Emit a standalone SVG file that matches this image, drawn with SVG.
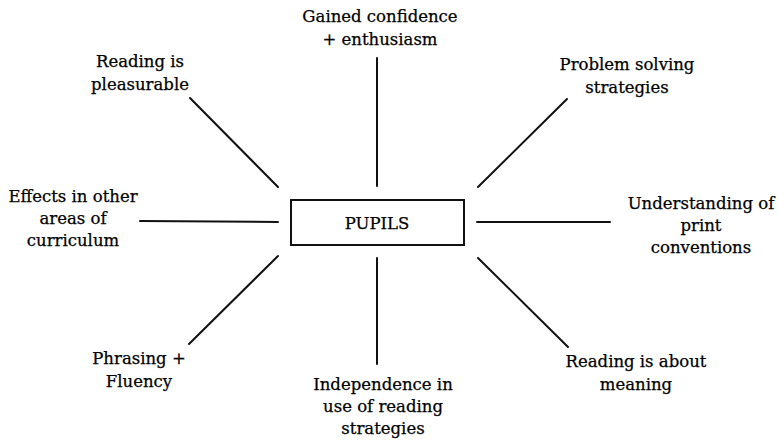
<svg xmlns="http://www.w3.org/2000/svg" width="778" height="440" viewBox="0 0 778 440">
<style>
text{font-family:"DejaVu Serif","Liberation Serif",serif;font-size:16.5px;fill:#000;stroke:#000;stroke-width:0.25;text-anchor:middle}
.c{stroke:#111;stroke-width:2;fill:none;stroke-linecap:round}
</style>
<rect width="778" height="440" fill="#fff"/>
<g id="connectors" class="c">
<line x1="377" y1="58" x2="377" y2="186"/>
<line x1="377" y1="258" x2="377" y2="364"/>
<line x1="140" y1="221" x2="278" y2="222"/>
<line x1="477" y1="222" x2="610" y2="222"/>
<line x1="190" y1="98" x2="278" y2="187"/>
<line x1="567" y1="99" x2="478" y2="187"/>
<line x1="278" y1="256" x2="189" y2="344"/>
<line x1="478" y1="258" x2="568" y2="347"/>
</g>
<g id="pupils">
<rect x="291" y="200" width="173" height="45" fill="#fff" stroke="#111" stroke-width="2"/>
<text x="377" y="229">PUPILS</text>
</g>
<g id="confidence"><text x="380" y="22">Gained confidence</text><text x="380" y="45">+ enthusiasm</text></g>
<g id="pleasurable"><text x="140" y="67">Reading is</text><text x="140" y="90">pleasurable</text></g>
<g id="problem"><text x="627" y="70">Problem solving</text><text x="627" y="93">strategies</text></g>
<g id="effects"><text x="73" y="202">Effects in other</text><text x="73" y="224">areas of</text><text x="73" y="246">curriculum</text></g>
<g id="print"><text x="701" y="209">Understanding of</text><text x="701" y="231">print</text><text x="701" y="253">conventions</text></g>
<g id="phrasing"><text x="139" y="364">Phrasing +</text><text x="139" y="387">Fluency</text></g>
<g id="independence"><text x="383" y="390">Independence in</text><text x="383" y="412">use of reading</text><text x="383" y="434">strategies</text></g>
<g id="meaning"><text x="636" y="367">Reading is about</text><text x="636" y="390">meaning</text></g>
</svg>
